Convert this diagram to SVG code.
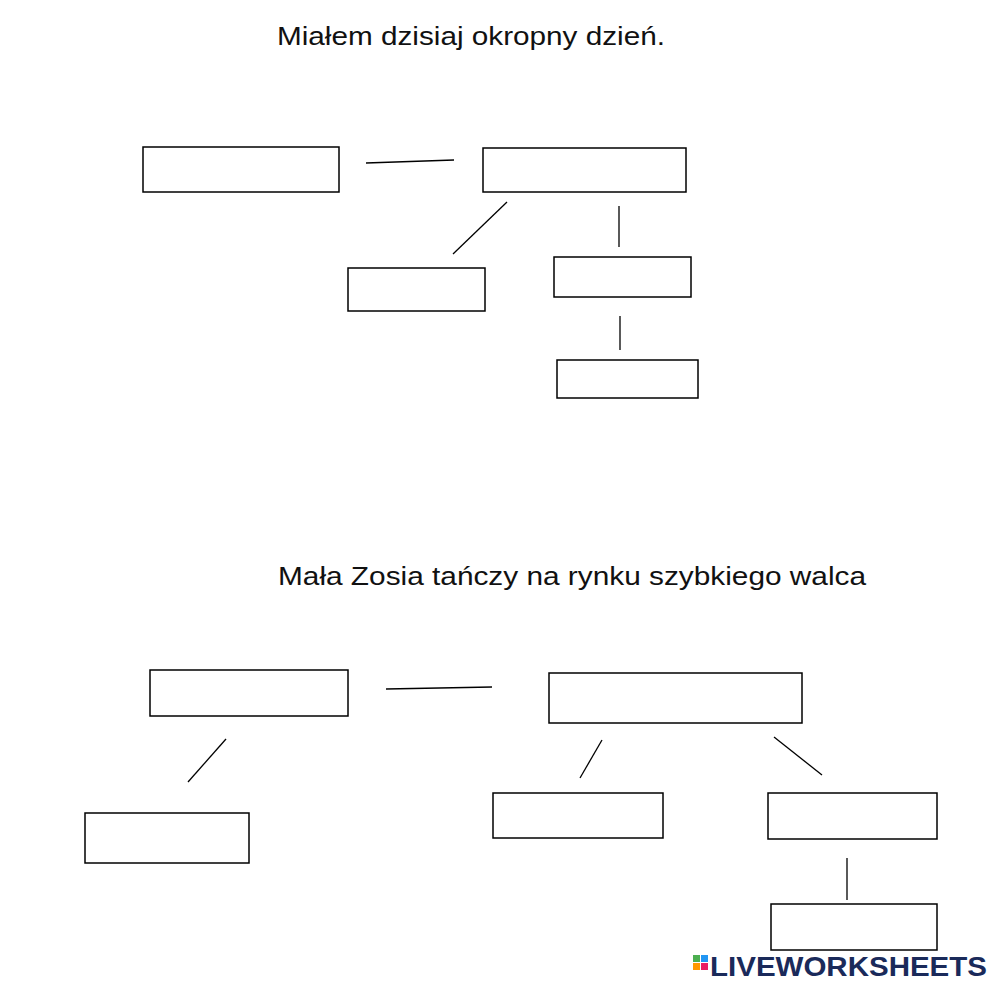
<svg xmlns="http://www.w3.org/2000/svg" width="1000" height="990" viewBox="0 0 1000 990">
<style>
.b{fill:none;stroke:#000;stroke-width:1.5}
.l{stroke:#000;stroke-width:1.3}
.t{font-family:"Liberation Sans",Arial,sans-serif;font-size:25px;fill:#111}
</style>
<rect width="1000" height="990" fill="#fff"/>
<text class="t" x="277" y="45" textLength="388" lengthAdjust="spacingAndGlyphs">Miałem dzisiaj okropny dzień.</text>
<text class="t" x="278" y="585" textLength="588" lengthAdjust="spacingAndGlyphs">Mała Zosia tańczy na rynku szybkiego walca</text>
<g id="n1"><rect class="b" x="143" y="147" width="196" height="45"/></g>
<g id="n2"><rect class="b" x="483" y="148" width="203" height="44"/></g>
<g id="n3"><rect class="b" x="348" y="268" width="137" height="43"/></g>
<g id="n4"><rect class="b" x="554" y="257" width="137" height="40"/></g>
<g id="n5"><rect class="b" x="557" y="360" width="141" height="38"/></g>
<g id="n6"><rect class="b" x="150" y="670" width="198" height="46"/></g>
<g id="n7"><rect class="b" x="549" y="673" width="253" height="50"/></g>
<g id="n8"><rect class="b" x="85" y="813" width="164" height="50"/></g>
<g id="n9"><rect class="b" x="493" y="793" width="170" height="45"/></g>
<g id="n10"><rect class="b" x="768" y="793" width="169" height="46"/></g>
<g id="n11"><rect class="b" x="771" y="904" width="166" height="46"/></g>
<g id="connectors">
<line class="l" x1="366" y1="163" x2="454" y2="160"/>
<line class="l" x1="507" y1="202" x2="453" y2="254"/>
<line class="l" x1="619" y1="206" x2="619" y2="247"/>
<line class="l" x1="620" y1="316" x2="620" y2="350"/>
<line class="l" x1="386" y1="689" x2="492" y2="687"/>
<line class="l" x1="226" y1="739" x2="188" y2="782"/>
<line class="l" x1="602" y1="740" x2="580" y2="778"/>
<line class="l" x1="774" y1="737" x2="822" y2="775"/>
<line class="l" x1="847" y1="858" x2="847" y2="900"/>
</g>
<g id="logo">
<rect x="693" y="955" width="7" height="7" fill="#4caf50"/>
<rect x="701" y="955" width="7" height="7" fill="#2196f3"/>
<rect x="693" y="963" width="7" height="7" fill="#ff9800"/>
<rect x="701" y="963" width="7" height="7" fill="#e91e63"/>
<text x="710" y="976" font-family="Liberation Sans,Arial,sans-serif" font-weight="bold" font-size="27" fill="#1a2a5a" textLength="277" lengthAdjust="spacingAndGlyphs">LIVEWORKSHEETS</text>
</g>
</svg>
